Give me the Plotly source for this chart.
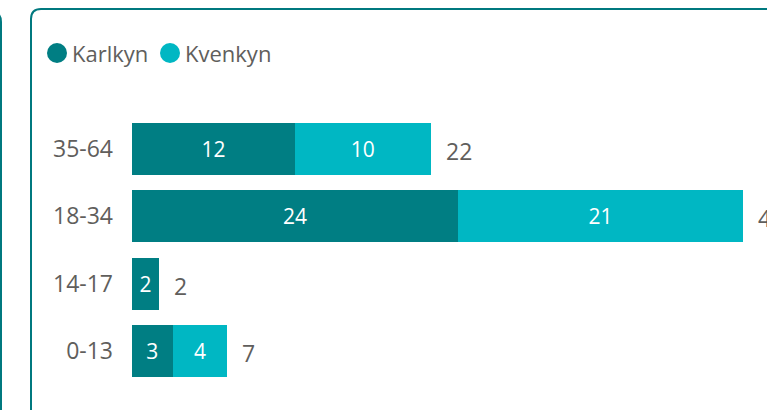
import plotly.graph_objects as go

categories = ["35-64", "18-34", "14-17", "0-13"]
karlkyn = [12, 24, 2, 3]
kvenkyn = [10, 21, 0, 4]
series_names = ["Karlkyn", "Kvenkyn"]
totals = [k + v for k, v in zip(karlkyn, kvenkyn)]

DARK = "#007E83"
LIGHT = "#00B7C3"
BORDER = "#00797F"
TEXT = "#605E5C"
FONT = "Open Sans"

W_FIG, H_FIG = 767, 410
L, R, T, B = 132, 0, 115, 25
PW, PH = W_FIG - L - R, H_FIG - T - B


def px(x):
    return (x - L) / PW


def py(y):
    return 1 - (y - T) / PH


fig = go.Figure()
for name, vals, col in [(series_names[0], karlkyn, DARK), (series_names[1], kvenkyn, LIGHT)]:
    fig.add_trace(go.Bar(
        y=categories, x=vals, orientation="h", name=name,
        marker=dict(color=col, line=dict(width=0)),
        text=[str(v) if v else "" for v in vals],
        textposition="inside", insidetextanchor="middle", textangle=0,
        textfont=dict(family=FONT, size=21, color="white"),
        insidetextfont=dict(family=FONT, size=21, color="white"),
        showlegend=False, hoverinfo="skip",
    ))

for c, t in zip(categories, totals):
    fig.add_annotation(x=t, y=c, text=str(t), showarrow=False, xanchor="left",
                       xshift=13, yshift=-2, font=dict(family=FONT, size=23, color=TEXT))

# custom legend (circle + label)
legend_x = [57, 170]
for name, col, lx in zip(series_names, [DARK, LIGHT], legend_x):
    fig.add_shape(type="circle", xref="paper", yref="paper",
                  x0=px(lx - 10), x1=px(lx + 10), y0=py(63), y1=py(43),
                  fillcolor=col, line=dict(width=0))
    fig.add_annotation(xref="paper", yref="paper", x=px(lx + 13), y=py(53),
                       text=name, showarrow=False, xanchor="left", yanchor="middle",
                       font=dict(family=FONT, size=22, color=TEXT))

# card borders
fig.add_shape(type="path", xref="paper", yref="paper",
              path=f"M {px(31)},{py(430)} L {px(31)},{py(19)} Q {px(31)},{py(9)} {px(41)},{py(9)} L {px(800)},{py(9)}",
              line=dict(color=BORDER, width=2))
fig.add_shape(type="path", xref="paper", yref="paper",
              path=f"M {px(1)},{py(430)} L {px(1)},{py(22)} Q {px(1)},{py(12)} {px(-9)},{py(12)}",
              line=dict(color=BORDER, width=2))

fig.update_layout(
    width=W_FIG, height=H_FIG,
    margin=dict(l=L, r=R, t=T, b=B, pad=0),
    barmode="stack", bargap=0.227,
    plot_bgcolor="white", paper_bgcolor="white",
    font=dict(family=FONT, color=TEXT),
    uniformtext=dict(minsize=21, mode="show"),
    showlegend=False,
    xaxis=dict(range=[0, PW / 13.58], visible=False, fixedrange=True),
    yaxis=dict(autorange="reversed", showgrid=False, zeroline=False, showline=False,
               ticks="", ticklabelstandoff=18, fixedrange=True,
               tickfont=dict(family=FONT, size=23, color=TEXT)),
)

fig.write_html("out.html",
               config={"displayModeBar": False, "staticPlot": True},
               post_script="document.body.style.margin='0px';document.body.style.overflow='hidden';")
